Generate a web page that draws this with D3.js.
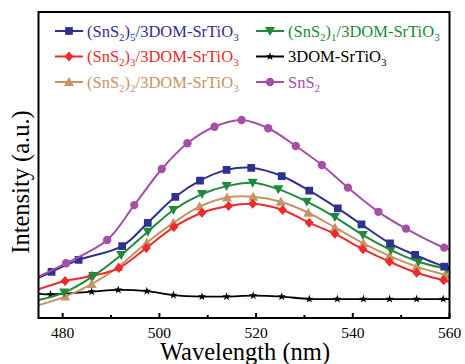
<!DOCTYPE html>
<html><head><meta charset="utf-8">
<script src="https://cdn.jsdelivr.net/npm/d3@7"></script>
</head><body>
<script>
// ---- data ----
const xTicks = [480, 500, 520, 540, 560];
const xMinor = [490, 510, 530, 550];
const wlPurple = [475,480.7,489.2,494.8,500.5,505.8,511.4,517.0,522.5,528.2,533.6,539.0,545.3,551.0,558.9,560];
const valPurple = [13.5,17.9,25.5,36.9,48.7,57.1,62.5,64.7,62.0,56.2,50.0,42.6,34.7,29.2,23.0,22.5];
const wlBlue = [475,477.7,483.3,492.3,497.6,503.3,508.4,513.9,519.0,525.3,531.0,536.9,541.8,547.7,552.9,558.9,560];
const valBlue = [13.1,15.1,19.0,23.5,31.1,39.6,44.9,48.4,49.1,46.4,41.6,35.8,30.6,24.4,20.6,16.8,16.2];
const wlGreen = [475,480.3,486.3,492.1,497.6,502.9,508.8,513.9,519.3,524.6,530.5,536.3,542.1,547.9,553.6,559.5,560];
const valGreen = [5.9,8.3,13.7,20.6,28.2,35.3,40.5,43.1,44.2,42.1,38.0,33.0,27.1,22.2,18.4,16.0,15.8];
const wlRed = [475,480.5,486.0,491.6,497.3,503.0,508.8,514.3,519.3,525.5,531.0,536.3,542.1,547.6,553.2,558.8,560];
const valRed = [9.4,12.1,13.7,16.3,22.9,29.7,34.4,36.6,37.3,35.3,31.1,27.5,22.5,18.4,14.8,12.3,11.8];
const wlTan = [475,480.5,486.0,491.5,497.4,502.9,508.3,514.0,519.4,525.1,530.8,536.3,542.2,547.6,553.2,559.1,560];
const valTan = [4.2,7.0,11.1,16.7,24.7,31.1,36.4,39.4,39.6,38.0,34.4,29.6,24.4,20.3,16.8,14.1,13.6];
const wlBlack = [475,477.5,486.0,491.5,497.4,502.9,508.8,513.9,519.4,525.3,531.0,536.8,542.2,547.6,553.2,558.7,560];
const valBlack = [8.0,7.7,8.6,9.2,8.8,7.5,7.0,7.0,7.3,7.0,6.2,6.2,6.2,6.2,6.2,6.2,6.2];
const seriesNames = ["(SnS2)5/3DOM-SrTiO3","(SnS2)3/3DOM-SrTiO3","(SnS2)2/3DOM-SrTiO3","(SnS2)1/3DOM-SrTiO3","3DOM-SrTiO3","SnS2"];

// ---- layout ----
const W = 465, H = 364;
const m = {l: 38.5, r: 15.5, t: 12, b: 46};
const FONT = "\"Liberation Serif\"";
d3.select("body").style("margin", "0").style("background", "#fff");
const svg = d3.select("body").append("svg").attr("width", W).attr("height", H)
  .style("display", "block");
const x = d3.scaleLinear().domain([475, 560]).range([m.l, W - m.r]);
const y = d3.scaleLinear().domain([0, 100]).range([H - m.b, m.t]);

const series = [
  {name: seriesNames[0], wl: wlBlue, v: valBlue, color: "#2E3192", sym: "square"},
  {name: seriesNames[1], wl: wlRed, v: valRed, color: "#EE2A2A", sym: "diamond"},
  {name: seriesNames[2], wl: wlTan, v: valTan, color: "#C69464", sym: "up"},
  {name: seriesNames[3], wl: wlGreen, v: valGreen, color: "#208A3C", sym: "down"},
  {name: seriesNames[4], wl: wlBlack, v: valBlack, color: "#000000", sym: "star"},
  {name: seriesNames[5], wl: wlPurple, v: valPurple, color: "#A54FA8", sym: "circle"}
];

function symPath(sym) {
  switch (sym) {
    case "square": return d3.symbol(d3.symbolSquare, 60)();
    case "diamond": return "M0,-5L4.5,0L0,5L-4.5,0Z";
    case "up": return "M0,-5L5,4L-5,4Z";
    case "down": return "M0,5L5,-4L-5,-4Z";
    case "star": return d3.symbol(d3.symbolStar, 22)();
    case "circle": return d3.symbol(d3.symbolCircle, 55)();
  }
}

svg.append("clipPath").attr("id", "c").append("rect")
  .attr("x", m.l).attr("y", m.t).attr("width", W - m.r - m.l).attr("height", H - m.b - m.t);

const line = d3.line().x(d => x(d[0])).y(d => y(d[1])).curve(d3.curveCatmullRom.alpha(0.5));
const draw = [series[4], series[2], series[1], series[3], series[0], series[5]];
const g = svg.append("g").attr("clip-path", "url(#c)");
draw.forEach(s => {
  const pts = s.wl.map((w, i) => [w, s.v[i]]);
  g.append("path").attr("d", line(pts)).attr("fill", "none")
    .attr("stroke", s.color).attr("stroke-width", s.sym === "star" ? 1.8 : 2);
  g.selectAll(null).data(pts.filter(p => p[0] > 475 && p[0] < 560)).enter().append("path")
    .attr("d", symPath(s.sym)).attr("fill", s.color)
    .attr("transform", p => `translate(${x(p[0])},${y(p[1])})`);
});

// frame
svg.append("rect").attr("x", m.l).attr("y", m.t).attr("width", W - m.r - m.l).attr("height", H - m.b - m.t)
  .attr("fill", "none").attr("stroke", "#000").attr("stroke-width", 2);

// x axis ticks (inward)
const ax = svg.append("g").attr("transform", `translate(0,${H - m.b})`);
ax.selectAll(".mj").data(xTicks).enter().append("line")
  .attr("x1", d => x(d)).attr("x2", d => x(d)).attr("y1", 0).attr("y2", -5)
  .attr("stroke", "#000").attr("stroke-width", 2);
ax.selectAll(".mn").data(xMinor).enter().append("line")
  .attr("x1", d => x(d)).attr("x2", d => x(d)).attr("y1", 0).attr("y2", -3)
  .attr("stroke", "#000").attr("stroke-width", 2);
ax.selectAll(".lb").data(xTicks).enter().append("text")
  .attr("x", d => x(d)).attr("y", 20).attr("text-anchor", "middle")
  .style("font-family", FONT).attr("font-size", 15.5).text(d => d);

svg.append("text").attr("x", 245).attr("y", 359.5).attr("text-anchor", "middle")
  .style("font-family", FONT).attr("font-size", 24.5).text("Wavelength (nm)");
svg.append("text").attr("transform", "translate(28.5,182) rotate(-90)").attr("text-anchor", "middle")
  .style("font-family", FONT).attr("font-size", 24.5).text("Intensity (a.u.)");

// legend
function legendText(t, name) {
  const m2 = name.match(/^\(SnS2\)(\d)\/3DOM-SrTiO3$/);
  if (m2) {
    t.append("tspan").text("(SnS");
    t.append("tspan").text("2").attr("font-size", 11).attr("dy", 4);
    t.append("tspan").text(")").attr("dy", -4);
    t.append("tspan").text(m2[1]).attr("font-size", 11).attr("dy", 4);
    t.append("tspan").text("/3DOM-SrTiO").attr("dy", -4);
    t.append("tspan").text("3").attr("font-size", 11).attr("dy", 4);
  } else if (name === "3DOM-SrTiO3") {
    t.append("tspan").text("3DOM-SrTiO");
    t.append("tspan").text("3").attr("font-size", 11).attr("dy", 4);
  } else {
    t.append("tspan").text("SnS");
    t.append("tspan").text("2").attr("font-size", 11).attr("dy", 4);
  }
}
const legOrder = [[0, 0, 0], [3, 1, 0], [1, 0, 1], [4, 1, 1], [2, 0, 2], [5, 1, 2]];
legOrder.forEach(([i, col, row]) => {
  const s = series[i];
  const lx = col === 0 ? 55 : 256, ly = 31 + row * 25.5;
  const lg = svg.append("g");
  lg.append("line").attr("x1", lx).attr("x2", lx + 28).attr("y1", ly).attr("y2", ly)
    .attr("stroke", s.color).attr("stroke-width", 2);
  lg.append("path").attr("d", symPath(s.sym)).attr("fill", s.color)
    .attr("transform", `translate(${lx + 14},${ly})`);
  const t = lg.append("text").attr("x", lx + 32).attr("y", ly + 5.5)
    .style("font-family", FONT).attr("font-size", 16.5).attr("fill", s.color);
  legendText(t, s.name);
});
</script>
</body></html>
